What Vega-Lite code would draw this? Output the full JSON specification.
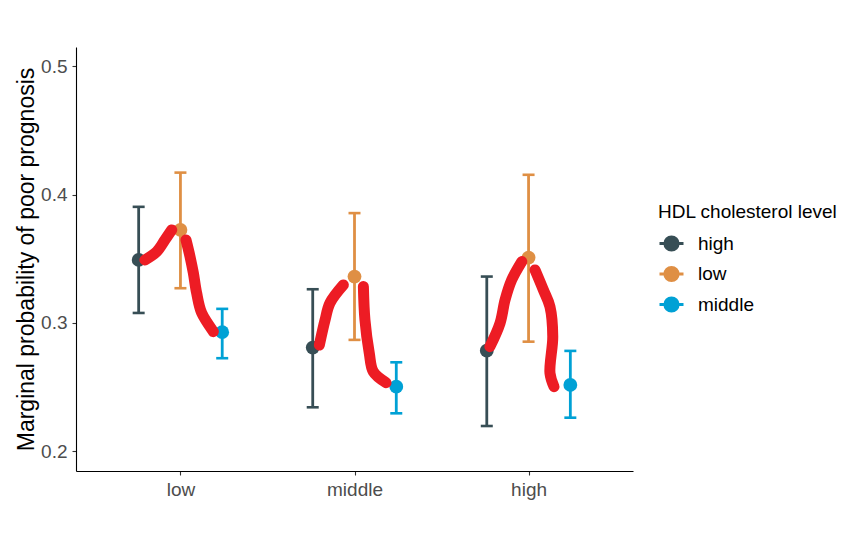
{
  "$schema": "https://vega.github.io/schema/vega-lite/v6.json",
  "width": 557,
  "height": 424,
  "autosize": {"type": "none"},
  "padding": {"left": 76, "top": 47, "right": 230, "bottom": 64},
  "background": "white",
  "config": {
    "font": "Liberation Sans",
    "view": {"stroke": null},
    "axis": {"grid": false}
  },
  "datasets": {
    "est": [
      {"level": "low", "hdl": "high", "x": 0.76, "y": 0.3491, "lo": 0.3077, "hi": 0.3905},
      {"level": "low", "hdl": "low", "x": 1.0, "y": 0.3725, "lo": 0.3270, "hi": 0.4172},
      {"level": "low", "hdl": "middle", "x": 1.24, "y": 0.2927, "lo": 0.2724, "hi": 0.3109},
      {"level": "middle", "hdl": "high", "x": 1.76, "y": 0.2807, "lo": 0.2341, "hi": 0.3262},
      {"level": "middle", "hdl": "low", "x": 2.0, "y": 0.3361, "lo": 0.2867, "hi": 0.3856},
      {"level": "middle", "hdl": "middle", "x": 2.24, "y": 0.2502, "lo": 0.2294, "hi": 0.2692},
      {"level": "high", "hdl": "high", "x": 2.76, "y": 0.2783, "lo": 0.2195, "hi": 0.3361},
      {"level": "high", "hdl": "low", "x": 3.0, "y": 0.3509, "lo": 0.2853, "hi": 0.4155},
      {"level": "high", "hdl": "middle", "x": 3.24, "y": 0.2515, "lo": 0.2260, "hi": 0.2781}
    ],
    "strokes": [
      {"s": 1, "i": 1, "x": 0.796, "y": 0.3491},
      {"s": 1, "i": 2, "x": 0.864, "y": 0.3556},
      {"s": 1, "i": 3, "x": 0.911, "y": 0.3647},
      {"s": 1, "i": 4, "x": 0.950, "y": 0.3725},
      {"s": 2, "i": 1, "x": 1.032, "y": 0.3647},
      {"s": 2, "i": 2, "x": 1.055, "y": 0.3517},
      {"s": 2, "i": 3, "x": 1.074, "y": 0.3390},
      {"s": 2, "i": 4, "x": 1.093, "y": 0.3233},
      {"s": 2, "i": 5, "x": 1.122, "y": 0.3077},
      {"s": 2, "i": 6, "x": 1.189, "y": 0.2931},
      {"s": 3, "i": 1, "x": 1.798, "y": 0.2827},
      {"s": 3, "i": 2, "x": 1.831, "y": 0.3023},
      {"s": 3, "i": 3, "x": 1.859, "y": 0.3155},
      {"s": 3, "i": 4, "x": 1.936, "y": 0.3296},
      {"s": 4, "i": 1, "x": 2.051, "y": 0.3283},
      {"s": 4, "i": 2, "x": 2.060, "y": 0.3023},
      {"s": 4, "i": 3, "x": 2.085, "y": 0.2763},
      {"s": 4, "i": 4, "x": 2.108, "y": 0.2619},
      {"s": 4, "i": 5, "x": 2.181, "y": 0.2533},
      {"s": 5, "i": 1, "x": 2.778, "y": 0.2814},
      {"s": 5, "i": 2, "x": 2.836, "y": 0.2997},
      {"s": 5, "i": 3, "x": 2.865, "y": 0.3179},
      {"s": 5, "i": 4, "x": 2.903, "y": 0.3335},
      {"s": 5, "i": 5, "x": 2.961, "y": 0.3478},
      {"s": 6, "i": 1, "x": 3.037, "y": 0.3413},
      {"s": 6, "i": 2, "x": 3.085, "y": 0.3257},
      {"s": 6, "i": 3, "x": 3.123, "y": 0.3126},
      {"s": 6, "i": 4, "x": 3.139, "y": 0.2892},
      {"s": 6, "i": 5, "x": 3.123, "y": 0.2607},
      {"s": 6, "i": 6, "x": 3.146, "y": 0.2502}
    ]
  },
  "encoding": {
    "x": {
      "field": "x",
      "type": "quantitative",
      "scale": {"domain": [0.4, 3.6], "nice": false, "zero": false},
      "axis": {
        "values": [1, 2, 3],
        "labelExpr": "datum.value == 1 ? 'low' : datum.value == 2 ? 'middle' : 'high'",
        "title": null,
        "domainColor": "black",
        "domainWidth": 1.1,
        "tickColor": "#333333",
        "tickSize": 4,
        "tickWidth": 1.1,
        "labelFontSize": 19,
        "labelColor": "#4D4D4D",
        "labelPadding": 5,
        "grid": false
      }
    },
    "y": {
      "field": "y",
      "type": "quantitative",
      "scale": {"domain": [0.1844, 0.5152], "nice": false, "zero": false},
      "axis": {
        "values": [0.2, 0.3, 0.4, 0.5],
        "format": ".1f",
        "title": "Marginal probability of poor prognosis",
        "titleFontSize": 23,
        "titleFontWeight": "normal",
        "titleColor": "black",
        "titlePadding": 2,
        "domainColor": "black",
        "domainWidth": 1.1,
        "tickColor": "#333333",
        "tickSize": 4,
        "tickWidth": 1.1,
        "labelFontSize": 19,
        "labelColor": "#4D4D4D",
        "labelPadding": 5,
        "grid": false
      }
    }
  },
  "layer": [
    {
      "data": {"name": "est"},
      "mark": {"type": "rule", "strokeWidth": 2.8, "opacity": 1},
      "encoding": {
        "y": {"field": "lo", "type": "quantitative"},
        "y2": {"field": "hi"},
        "color": {"field": "hdl", "type": "nominal", "scale": {"domain": ["high", "low", "middle"], "range": ["#374E55", "#DF8F44", "#00A1D5"]}}
      }
    },
    {
      "data": {"name": "est"},
      "mark": {"type": "tick", "orient": "horizontal", "size": 12, "thickness": 2.6, "opacity": 1},
      "encoding": {
        "y": {"field": "lo", "type": "quantitative"},
        "color": {"field": "hdl", "type": "nominal"}
      }
    },
    {
      "data": {"name": "est"},
      "mark": {"type": "tick", "orient": "horizontal", "size": 12, "thickness": 2.6, "opacity": 1},
      "encoding": {
        "y": {"field": "hi", "type": "quantitative"},
        "color": {"field": "hdl", "type": "nominal"}
      }
    },
    {
      "data": {"name": "est"},
      "mark": {"type": "point", "filled": true, "opacity": 1, "size": 190},
      "encoding": {
        "color": {
          "field": "hdl",
          "type": "nominal",
          "legend": {
            "orient": "none",
            "legendX": 582,
            "legendY": 156,
            "padding": 0,
            "title": "HDL cholesterol level",
            "titleFontSize": 19,
            "titleFontWeight": "normal",
            "titleColor": "black",
            "titlePadding": 8,
            "labelFontSize": 19,
            "labelColor": "black",
            "labelOffset": 13,
            "rowPadding": 3.5,
            "symbolType": "M-1,0L1,0M-0.55,0A0.55,0.55,0,1,1,0.55,0A0.55,0.55,0,1,1,-0.55,0Z",
            "symbolSize": 576,
            "symbolStrokeWidth": 3,
            "symbolOpacity": 1,
            "encode": {
              "symbols": {
                "update": {
                  "stroke": {"scale": "color", "field": "value"},
                  "fill": {"scale": "color", "field": "value"},
                  "strokeWidth": {"value": 3},
                  "opacity": {"value": 1},
                  "fillOpacity": {"value": 1},
                  "strokeOpacity": {"value": 1}
                }
              }
            }
          }
        }
      }
    },
    {
      "data": {"name": "strokes"},
      "mark": {"type": "line", "color": "#ED1C24", "strokeWidth": 11, "strokeCap": "round", "strokeJoin": "round", "interpolate": "catmull-rom"},
      "encoding": {
        "detail": {"field": "s", "type": "nominal"},
        "order": {"field": "i", "type": "quantitative"}
      }
    }
  ]
}
